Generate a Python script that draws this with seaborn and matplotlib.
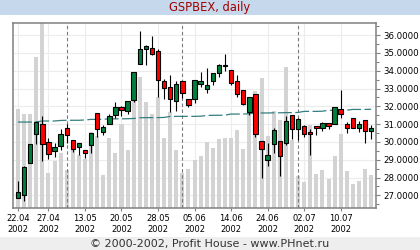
import numpy as np
import pandas as pd
import matplotlib
matplotlib.use("Agg")
import matplotlib.pyplot as plt
import matplotlib.transforms as mtrans
from matplotlib.ticker import MultipleLocator, FixedLocator, FixedFormatter
import seaborn as sns

sns.set_theme(style="white")
plt.rcParams['font.family'] = ['DejaVu Sans']
plt.rcParams['lines.scale_dashes'] = False

# ---------------- data ----------------
day_idx = list(range(59))
opens = [26870, 27000, 28800, 30470, 30990, 30000, 29480, 29780, 30790, 30090,
         29700, 29530, 29810, 31610, 30560, 30990, 31530, 31950, 31720, 32380,
         34360, 35210, 35280, 35090, 33410, 33090, 32280, 33410, 32430, 32430,
         33280, 33000, 33410, 33900, 34290, 34030, 33410, 32900, 31690, 32700,
         30060, 29010, 29910, 30060, 29960, 31500, 30710, 30880, 30560, 30900,
         30810, 31070, 30990, 31840, 30990, 31350, 30810, 31220, 30600]
highs = [27810, 28650, 29870, 31120, 31460, 30220, 29940, 30750, 31030, 30090,
         29920, 29530, 30500, 31610, 30950, 31550, 32250, 32020, 32280, 33930,
         36240, 35470, 35940, 35240, 33520, 33780, 33410, 33410, 32430, 33460,
         33930, 34160, 33880, 34400, 34940, 34030, 33780, 32900, 32530, 32700,
         30060, 29940, 30790, 30060, 31440, 31500, 31350, 30940, 30710, 30900,
         31120, 31070, 31970, 32940, 31120, 31350, 31180, 31220, 30940]
lows = [26870, 26670, 28800, 29910, 28910, 29060, 29140, 29550, 29960, 29440,
        29290, 29120, 29380, 30280, 30410, 30990, 31350, 31460, 31590, 32250,
        34360, 34310, 34870, 32510, 32400, 31690, 31720, 32470, 31950, 32210,
        33090, 32730, 33180, 33630, 33970, 33180, 32550, 32060, 31540, 30280,
        27980, 28630, 29400, 28090, 29850, 30190, 30090, 30280, 29250, 30370,
        30600, 30710, 30990, 31370, 30510, 30790, 30560, 29960, 30190]
closes = [27190, 28590, 29870, 31120, 29910, 29340, 29720, 30430, 30370, 29590,
          29920, 29360, 30500, 30750, 30840, 31460, 31950, 31780, 32280, 33930,
          35210, 35380, 34920, 33460, 33030, 32400, 33260, 32750, 32100, 33460,
          33410, 33180, 33880, 34310, 34330, 33330, 32700, 32150, 32530, 30470,
          29590, 29250, 30660, 29190, 31180, 30710, 31270, 30470, 30430, 30790,
          31070, 30920, 31970, 31590, 30810, 30790, 30990, 30600, 30790]
volume = [99, 94, 94, 151, 190, 35, 47, 55, 38, 64,
          53, 49, 76, 72, 33, 70, 55, 84, 58, 108,
          131, 106, 94, 111, 70, 96, 58, 35, 39, 48,
          52, 66, 60, 69, 70, 70, 78, 59, 100, 117,
          130, 72, 97, 88, 141, 68, 32, 26, 83, 34,
          38, 29, 52, 74, 37, 24, 27, 39, 33]
moving_avg = [31120, 31120, 31120, 31130, 31180, 31180, 31180, 31210, 31220, 31220,
              31220, 31240, 31270, 31270, 31280, 31300, 31300, 31300, 31310, 31320,
              31360, 31370, 31370, 31370, 31380, 31440, 31440, 31440, 31440, 31440,
              31450, 31490, 31500, 31500, 31510, 31570, 31570, 31570, 31590, 31630,
              31630, 31630, 31640, 31640, 31650, 31650, 31660, 31720, 31720, 31720,
              31730, 31780, 31780, 31780, 31790, 31830, 31830, 31830, 31840]
tick_pos = [0, 5, 11, 17, 23, 29, 35, 41, 47, 53]
tick_labels = ["22.04\n2002", "27.04\n2002", "13.05\n2002", "20.05\n2002",
               "28.05\n2002", "05.06\n2002", "14.06\n2002", "24.06\n2002",
               "02.07\n2002", "10.07\n2002"]
month_starts = [8, 27, 46]
price_ticks = list(range(27000, 37000, 1000))
price_labels = [f"{p/1000:.4f}" for p in price_ticks]

# ---------------- figure ----------------
W, H = 420, 250
fig = plt.figure(figsize=(W / 100, H / 100), dpi=100)
fig.patch.set_facecolor('white')
fig.add_artist(plt.Rectangle((0, 1 - 15 / H), 1, 15 / H, transform=fig.transFigure,
                             facecolor='#c6d9ec', edgecolor='none', zorder=0))
fig.add_artist(plt.Rectangle((0, 0), 1, 13 / H, transform=fig.transFigure,
                             facecolor='#eeeeee', edgecolor='none', zorder=0))
fig.text(0.5, 1 - 7.5 / H, "GSPBEX, daily", ha='center', va='center',
         color='#a00000', fontsize=8.3)
fig.text(0.5, 6.5 / H, "\u00a9 2000-2002, Profit House - www.PHnet.ru", ha='center',
         va='center', color='#333333', fontsize=8)

ax = fig.add_axes([13 / W, 42 / H, 363 / W, 185 / H])
axp = ax.twinx()

# volume bars (back layer)
vol_df = pd.DataFrame({'day': day_idx, 'volume': volume})
sns.barplot(data=vol_df, x='day', y='volume', ax=ax, color='#d3d3d3', saturation=1,
            width=0.66, native_scale=True, errorbar=None, linewidth=0, zorder=2)
ax.set_xlim(-0.82, 58.8)
ax.set_ylim(0, 185)
ax.set_xlabel('')
ax.set_ylabel('')
ax.set_yticks([])
ax.set_axisbelow(True)
ax.xaxis.set_major_locator(FixedLocator(tick_pos))
ax.xaxis.set_major_formatter(FixedFormatter(tick_labels))
ax.xaxis.grid(True, color='#ececec', lw=0.8)
ax.tick_params(axis='x', which='major', bottom=True, length=2.5, width=0.8,
               color='#808080', pad=2, labelsize=6, labelcolor='black')
for lbl in ax.get_xticklabels():
    lbl.set_linespacing(1.25)

# horizontal grid at price levels, behind volume bars
blend = mtrans.blended_transform_factory(ax.transAxes, axp.transData)
for p in price_ticks:
    ax.plot([0, 1], [p, p], transform=blend, color='#ececec', lw=0.8, zorder=0.5)

for m in month_starts:
    ax.axvline(m, color='#7a7a7a', lw=0.8, linestyle=(0, (2.5, 1.8)), zorder=3)

for s in ax.spines.values():
    s.set_visible(False)

# price layer
axp.set_zorder(ax.get_zorder() + 1)
axp.patch.set_visible(False)
sns.lineplot(x=day_idx, y=moving_avg, ax=axp, color='#347f80', lw=0.9,
             linestyle=(0, (10, 2.5)), zorder=2)
axp.vlines(day_idx, lows, highs, color='black', lw=0.8, zorder=3)
bottoms = [min(o, c) for o, c in zip(opens, closes)]
heights = [max(abs(c - o), 15) for o, c in zip(opens, closes)]
colors = ['#00803c' if c >= o else '#ff0000' for o, c in zip(opens, closes)]
axp.bar(day_idx, heights, bottom=bottoms, width=0.72, color=colors,
        edgecolor='black', linewidth=0.8, zorder=4)

axp.set_xlim(-0.82, 58.8)
axp.set_ylim(26292, 36685)
axp.yaxis.set_major_locator(FixedLocator(price_ticks))
axp.yaxis.set_major_formatter(FixedFormatter(price_labels))
axp.yaxis.set_minor_locator(MultipleLocator(500))
axp.tick_params(axis='y', which='major', right=True, length=3, width=0.8,
                color='#808080', pad=2.5, labelsize=6.2, labelcolor='black')
axp.tick_params(axis='y', which='minor', right=True, length=2, width=0.8,
                color='#808080')
axp.tick_params(axis='x', bottom=False, labelbottom=False)
axp.set_xlabel('')
axp.set_ylabel('')
for s in axp.spines.values():
    s.set_visible(True)
    s.set_color('#808080')
    s.set_linewidth(1.1)

fig.savefig('out.png', dpi=100)
